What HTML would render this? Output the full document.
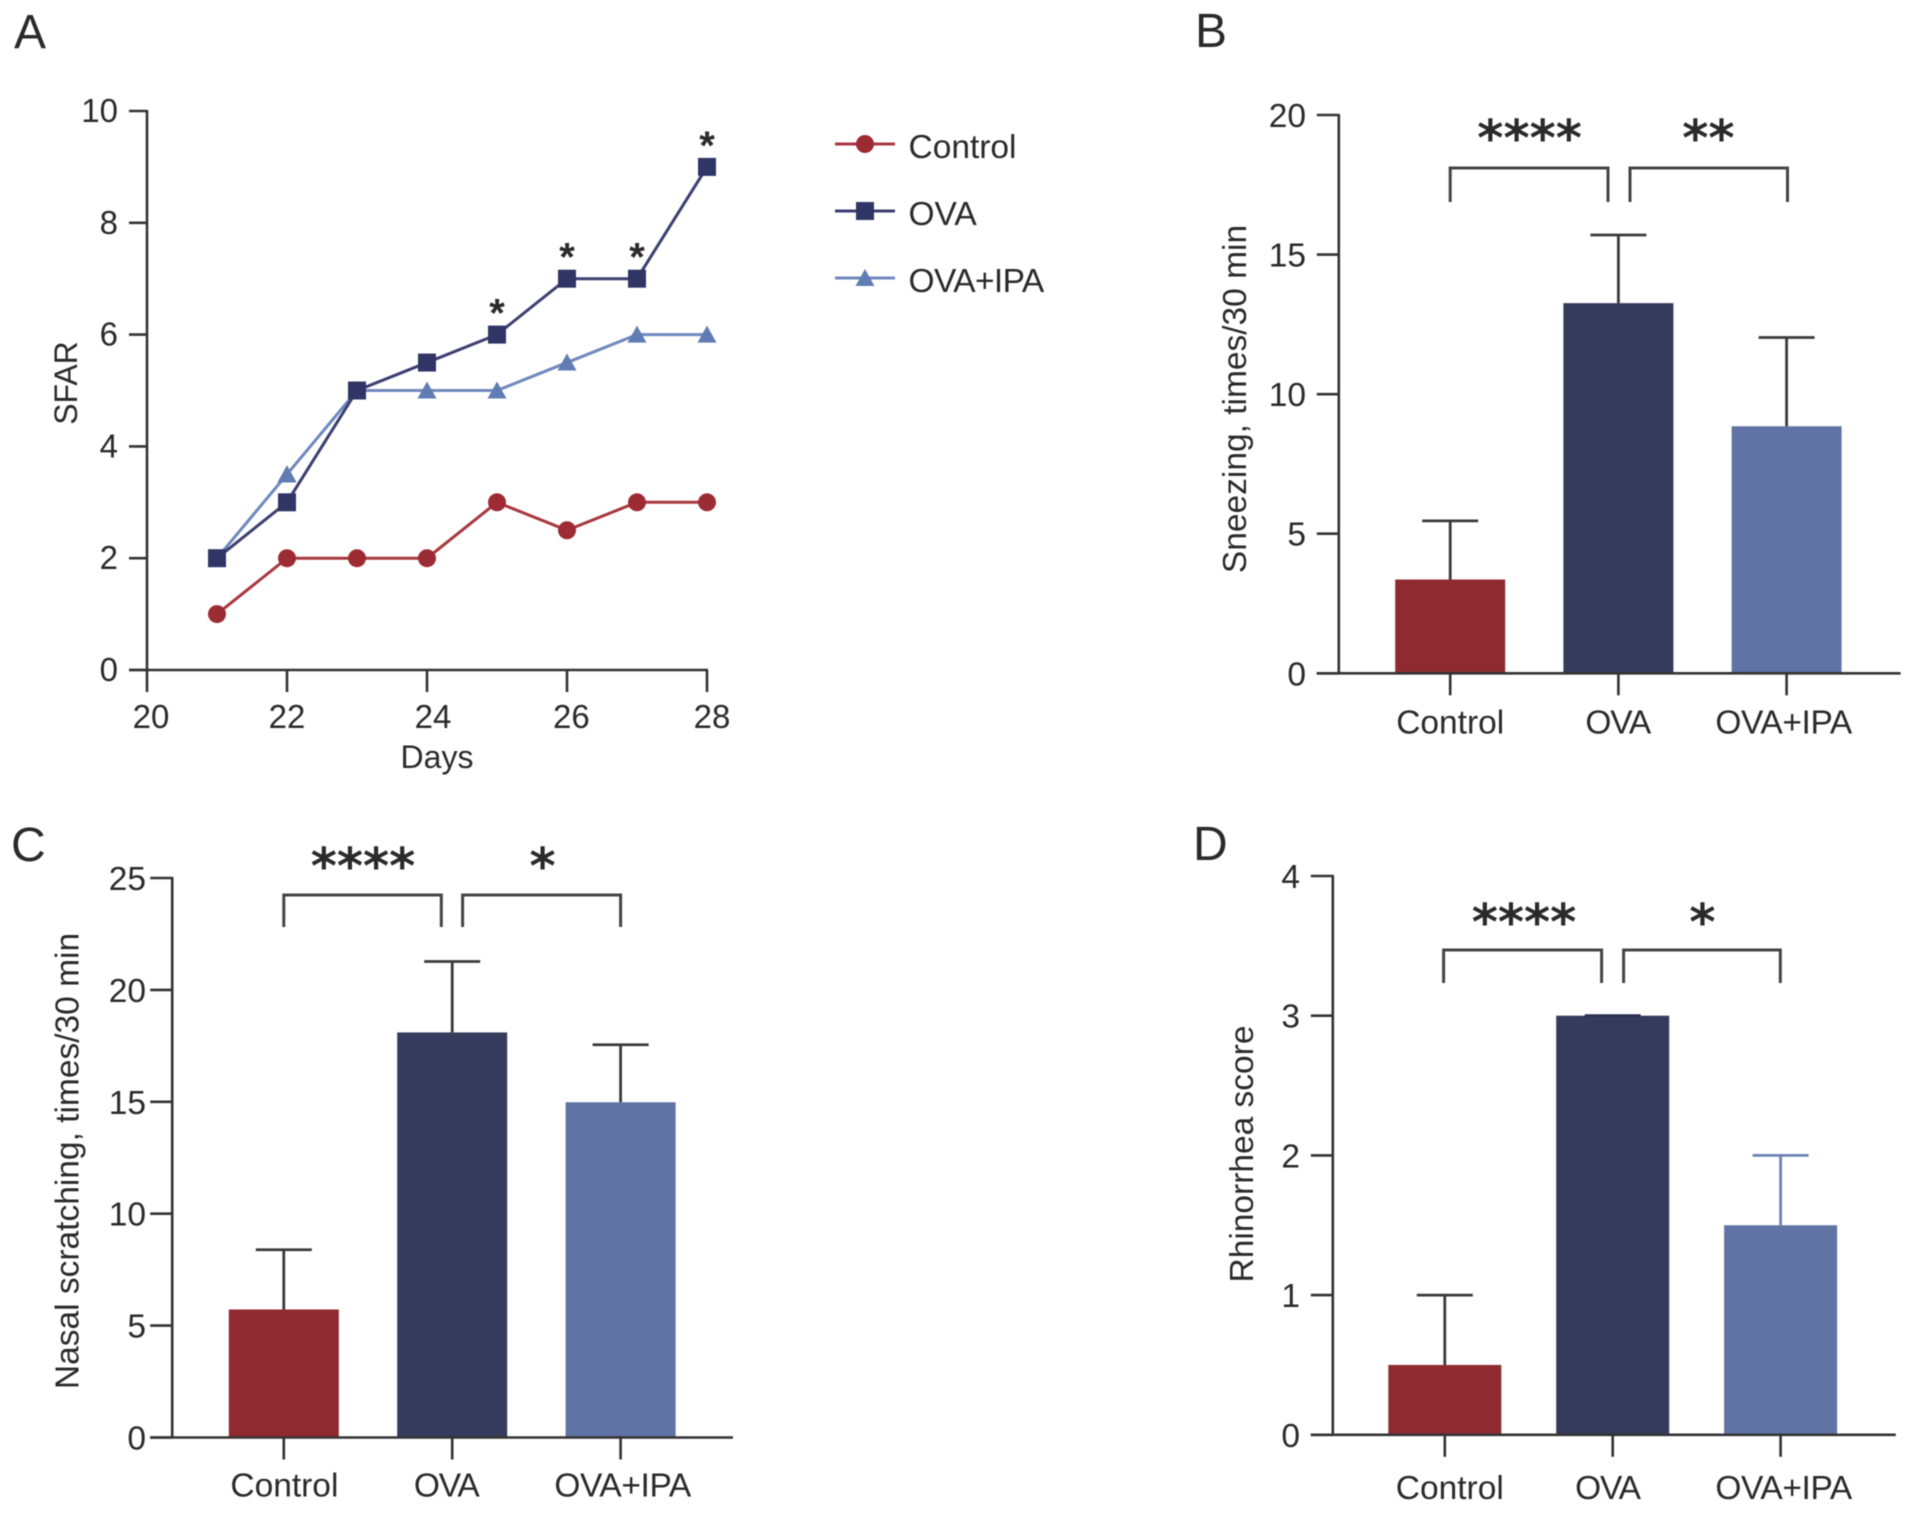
<!DOCTYPE html>
<html lang="en">
<head>
<meta charset="utf-8">
<title>Four-panel chart</title>
<style>
html,body{margin:0;padding:0;background:#fff;}
svg{display:block;filter:blur(0.5px);}
text{font-family:"Liberation Sans",Arial,sans-serif;fill:#2a2a2a;}
</style>
</head>
<body>
<svg id="figure" xmlns="http://www.w3.org/2000/svg" width="1914" height="1513" viewBox="0 0 1914 1513"></svg>
<script>
// ---- Panel A data ----
const days = [21, 22, 23, 24, 25, 26, 27, 28];
const controlScores = [1, 2, 2, 2, 3, 2.5, 3, 3];
const ovaScores = [2, 3, 5, 5.5, 6, 7, 7, 9];
const ipaScores = [2, 3.5, 5, 5, 5, 5.5, 6, 6];
const significantDays = [25, 26, 27, 28];
const dayTicks = [20, 22, 24, 26, 28];
const sfarTicks = [0, 2, 4, 6, 8, 10];
const legendLabels = ['Control', 'OVA', 'OVA+IPA'];

// ---- Bar panel data ----
const groups = ['Control', 'OVA', 'OVA+IPA'];
const sneezingMeans = [3.36, 13.26, 8.85];
const sneezingErrors = [2.1, 2.44, 3.18];
const sneezingTicks = [0, 5, 10, 15, 20];
const scratchingMeans = [5.72, 18.1, 14.98];
const scratchingErrors = [2.67, 3.17, 2.57];
const scratchingTicks = [0, 5, 10, 15, 20, 25];
const rhinorrheaMeans = [0.5, 3, 1.5];
const rhinorrheaErrors = [0.5, 0, 0.5];
const rhinorrheaTicks = [0, 1, 2, 3, 4];

const RED = '#8f2a31', NAVY = '#343b5c', BLUE = '#6073a4';
const AXIS = '#333333';
const svg = document.getElementById('figure');

function mk(tag, attrs, parent, txt) {
  const el = document.createElementNS('http://www.w3.org/2000/svg', tag);
  for (const k in attrs) el.setAttribute(k, attrs[k]);
  if (txt !== undefined) el.textContent = txt;
  (parent || svg).appendChild(el);
  return el;
}
function line(parent, x1, y1, x2, y2, color, w) {
  return mk('line', {x1, y1, x2, y2, stroke: color, 'stroke-width': w}, parent);
}

function panelLetter(letter, x, y) {
  const el = mk('text', {x, y, 'font-size': 48, fill: '#111'}, svg, letter);
  
  
}

function rotatedTitle(parent, label, x, y, size) {
  const el = mk('text', {x, y, 'font-size': size, 'text-anchor': 'middle', transform: 'rotate(-90 ' + x + ' ' + y + ')'}, parent, label);
  
  
}

function marker(parent, kind, cx, cy, color) {
  let el;
  if (kind === 'circle') {
    el = mk('circle', {cx, cy, r: 9, fill: color}, parent);
  } else if (kind === 'square') {
    el = mk('rect', {x: cx - 9, y: cy - 9, width: 18, height: 18, fill: color}, parent);
  } else {
    el = mk('polygon', {points: (cx - 9.5) + ',' + (cy + 8) + ' ' + (cx + 9.5) + ',' + (cy + 8) + ' ' + cx + ',' + (cy - 9), fill: color}, parent);
  }
  
  
}

// ---------- Panel A ----------
(function drawLinePanel() {
  const g = mk('g', {}, svg);
  
  

  const x0 = 147, x1 = 707, y0 = 670, y1 = 111;
  const xScale = v => x0 + (v - 20) * (x1 - x0) / 8;
  const yScale = v => y0 - v * (y0 - y1) / 10;
  const dayLabelNudge = [4, 0, 6, 4.4, 5];

  const yAxis = line(g, x0, y1 - 1, x0, y0, AXIS, 2.6);
  
  
  const xAxis = line(g, x0 - 18, y0, x1 + 1, y0, AXIS, 2.6);
  
  

  sfarTicks.forEach(t => {
    line(g, x0 - 18, yScale(t), x0, yScale(t), AXIS, 2.6);
    const el = mk('text', {x: 118, y: yScale(t) + 11, 'font-size': 33, 'text-anchor': 'end'}, g, String(t));
    
    
  });
  dayTicks.forEach((t, i) => {
    line(g, xScale(t), y0, xScale(t), y0 + 22, AXIS, 2.6);
    const el = mk('text', {x: xScale(t) + dayLabelNudge[i], y: 728, 'font-size': 33, 'text-anchor': 'middle'}, g, String(t));
    
    
  });

  const xTitle = mk('text', {x: 437, y: 768, 'font-size': 32, 'text-anchor': 'middle'}, g, 'Days');
  
  
  rotatedTitle(g, 'SFAR', 77, 383, 32);

  const drawSeries = (values, color, markerColor, kind, name) => {
    const s = mk('g', {}, g);
    
    
    const pts = values.map((v, i) => xScale(days[i]) + ',' + yScale(v)).join(' ');
    mk('polyline', {points: pts, fill: 'none', stroke: color, 'stroke-width': 3}, s);
    values.forEach((v, i) => marker(s, kind, xScale(days[i]), yScale(v), markerColor));
  };
  drawSeries(controlScores, '#a8383e', '#9c2b33', 'circle', 'series-control');
  drawSeries(ipaScores, '#6f88bd', '#5f7cb3', 'triangle', 'series-ova-ipa');
  drawSeries(ovaScores, '#3c3f70', '#2f3564', 'square', 'series-ova');
  // IPA triangle at day 22 stays visible above the OVA line
  marker(g, 'triangle', xScale(22), yScale(ipaScores[1]), '#5f7cb3');

  significantDays.forEach(d => {
    const v = ovaScores[days.indexOf(d)];
    const el = mk('text', {x: xScale(d), y: yScale(v) - 8, 'font-size': 40, 'font-weight': 'bold', 'text-anchor': 'middle', fill: '#111'}, g, '*');
    
    
  });

  const legend = mk('g', {}, g);
  
  
  const legendColors = ['#a8383e', '#3c3f70', '#6f88bd'];
  const legendMarks = ['#9c2b33', '#2f3564', '#5f7cb3'];
  const legendKinds = ['circle', 'square', 'triangle'];
  legendLabels.forEach((lab, i) => {
    const ly = 144 + i * 67;
    const e = mk('g', {}, legend);
    
    
    line(e, 835, ly, 895, ly, legendColors[i], 3);
    marker(e, legendKinds[i], 865, ly, legendMarks[i]);
    mk('text', {x: 908.5, y: ly + 14, 'font-size': 33.5, 'letter-spacing': i === 2 ? -0.6 : 0}, e, lab);
  });
})();

// ---------- Bar panels ----------
function drawBarPanel(cfg, means, errors, ticks) {
  const g = mk('g', {}, svg);
  
  

  const yScale = v => cfg.y0 - v * (cfg.y0 - cfg.yTop) / cfg.yMax;
  const xCenter = i => cfg.c0 + i * cfg.step;
  const fills = [RED, NAVY, BLUE];

  means.forEach((m, i) => {
    const bar = mk('rect', {x: xCenter(i) - cfg.barW / 2, y: yScale(m), width: cfg.barW, height: cfg.y0 - yScale(m), fill: fills[i]}, g);
    
    

    const top = yScale(m + errors[i]);
    const errColor = cfg.errColors[i];
    const eb = mk('g', {}, g);
    
    
    line(eb, xCenter(i), yScale(m), xCenter(i), top, errColor, 2.8);
    line(eb, xCenter(i) - 28, top, xCenter(i) + 28, top, errColor, 2.8);
  });

  const yAxis = line(g, cfg.axisX, cfg.yTop - 1, cfg.axisX, cfg.y0, AXIS, 2.6);
  
  
  const xAxis = line(g, cfg.axisX - 22, cfg.y0, cfg.axisEnd, cfg.y0, AXIS, 2.6);
  
  

  ticks.forEach(t => {
    line(g, cfg.axisX - 22, yScale(t), cfg.axisX, yScale(t), AXIS, 2.6);
    const el = mk('text', {x: cfg.labelRight, y: yScale(t) + 12, 'font-size': 33.5, 'text-anchor': 'end'}, g, String(t));
    
    
  });
  groups.forEach((lab, i) => {
    line(g, xCenter(i), cfg.y0, xCenter(i), cfg.y0 + 22, AXIS, 2.6);
    const el = mk('text', {x: xCenter(i) + cfg.labelShift[i], y: cfg.xLabelY, 'font-size': 33.5, 'text-anchor': 'middle', 'letter-spacing': [0, -1.2, -0.4][i]}, g, lab);
    
    
  });
  rotatedTitle(g, cfg.title, cfg.titleX, cfg.titleY, 33.5);

  // significance brackets
  cfg.brackets.forEach(b => {
    const br = mk('polyline', {points: b.x1 + ',' + cfg.bracketBottom + ' ' + b.x1 + ',' + cfg.bracketTop + ' ' + b.x2 + ',' + cfg.bracketTop + ' ' + b.x2 + ',' + cfg.bracketBottom, fill: 'none', stroke: '#444', 'stroke-width': 3}, g);
    
    
    const st = mk('text', {x: b.starX, y: cfg.starY, 'font-size': 50, 'font-weight': 'bold', 'text-anchor': 'middle', style: 'font-family:\"DejaVu Sans\",sans-serif', fill: '#111'}, g, b.stars);
    
    
  });
}

drawBarPanel({
  name: 'sneezing-bar-chart', yTop: 115, y0: 673.3, yMax: 20, axisX: 1338.8, axisEnd: 1900.6,
  c0: 1450.2, step: 168.2, barW: 110, labelRight: 1306, xLabelY: 733.5, labelShift: [0, -0.7, -3],
  title: 'Sneezing, times/30 min', titleX: 1246, titleY: 399,
  errColors: ['#3a3a3a', '#3a3a3a', '#3a3a3a'],
  bracketTop: 168, bracketBottom: 202, starY: 155.6,
  brackets: [{x1: 1450.2, x2: 1608, starX: 1529.6, stars: '****'}, {x1: 1630, x2: 1787.5, starX: 1708.4, stars: '**'}]
}, sneezingMeans, sneezingErrors, sneezingTicks);

drawBarPanel({
  name: 'nasal-scratching-bar-chart', yTop: 878, y0: 1437.5, yMax: 25, axisX: 172.2, axisEnd: 733,
  c0: 283.8, step: 168.4, barW: 110, labelRight: 146, xLabelY: 1496.6, labelShift: [0.6, -6, 2],
  title: 'Nasal scratching, times/30 min', titleX: 78.4, titleY: 1161,
  errColors: ['#3a3a3a', '#3a3a3a', '#3a3a3a'],
  bracketTop: 895, bracketBottom: 927, starY: 883.4,
  brackets: [{x1: 283.8, x2: 441.3, starX: 363, stars: '****'}, {x1: 462.6, x2: 620.6, starX: 542.6, stars: '*'}]
}, scratchingMeans, scratchingErrors, scratchingTicks);

drawBarPanel({
  name: 'rhinorrhea-bar-chart', yTop: 876, y0: 1434.8, yMax: 4, axisX: 1332.8, axisEnd: 1895.8,
  c0: 1444.8, step: 167.9, barW: 113, labelRight: 1300, xLabelY: 1499, labelShift: [5, -5.2, 3],
  title: 'Rhinorrhea score', titleX: 1253, titleY: 1154,
  errColors: ['#3a3a3a', '#2b3050', '#6f84b5'],
  bracketTop: 950, bracketBottom: 983, starY: 939.4,
  brackets: [{x1: 1443.6, x2: 1601.6, starX: 1524, stars: '****'}, {x1: 1623.6, x2: 1780.3, starX: 1702.4, stars: '*'}]
}, rhinorrheaMeans, rhinorrheaErrors, rhinorrheaTicks);

panelLetter('A', 14, 48);
panelLetter('B', 1195, 47);
panelLetter('C', 11, 861);
panelLetter('D', 1193, 860);
</script>
</body>
</html>
